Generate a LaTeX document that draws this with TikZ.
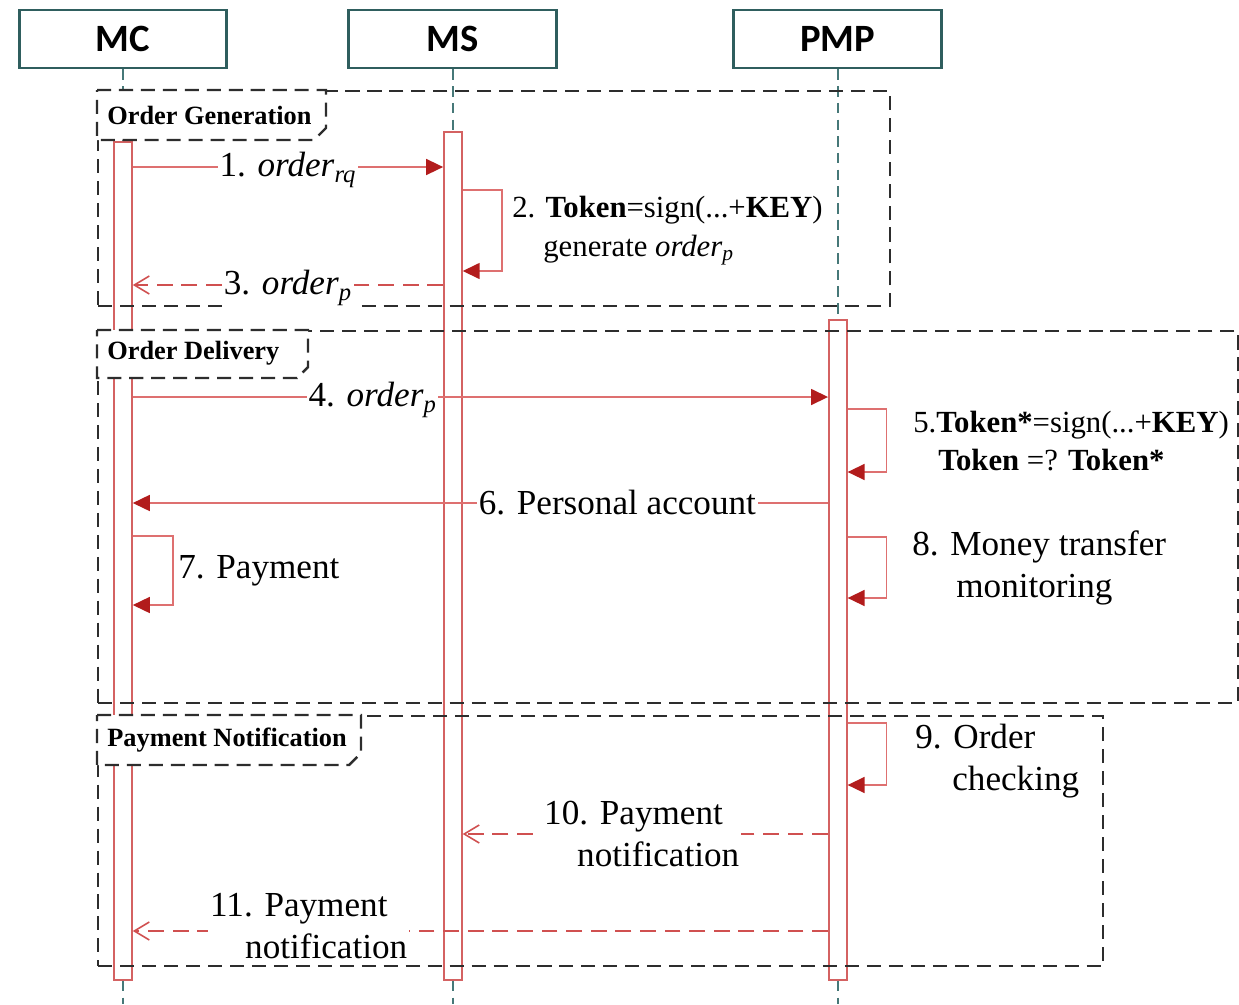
\documentclass[tikz,border=0pt]{standalone}
\usepackage{fontspec}
\setmainfont{Liberation Serif}
\newfontfamily\headfont{Carlito}
\usepackage{tikz}
\usetikzlibrary{positioning,arrows.meta}
\usepackage{xcolor}
\definecolor{tealline}{RGB}{47,94,94}
\definecolor{lifeteal}{RGB}{70,120,120}
\definecolor{barred}{RGB}{212,98,98}
\definecolor{msgred}{RGB}{222,112,112}
\definecolor{replyred}{RGB}{208,80,80}
\definecolor{tipred}{RGB}{178,28,28}
\definecolor{framegray}{RGB}{45,45,45}

\begin{document}
\begin{tikzpicture}[x=0.02cm, y=-0.02cm,
    actor/.style={rectangle, draw=tealline, line width=1.7pt, fill=white,
                  minimum width=4.16cm, minimum height=1.16cm,
                  font=\headfont\fontsize{22}{24}\selectfont\bfseries},
    lifeline/.style={draw=lifeteal, line width=1.1pt, dash pattern=on 6pt off 3.5pt},
    actbar/.style={rectangle, draw=barred, line width=0.9pt, fill=white,
                   minimum width=0.36cm, inner sep=0pt},
    fragment/.style={rectangle, draw=framegray, line width=1.4pt,
                     dash pattern=on 8pt off 4.5pt, anchor=north west},
    tabtext/.style={anchor=west, inner sep=0pt, font=\fontsize{15}{17}\selectfont\bfseries},
    msg/.style={draw=msgred, line width=0.9pt, -{Triangle[length=3.4mm, width=3.2mm, color=tipred]}},
    reply/.style={draw=replyred, line width=0.9pt, dash pattern=on 9pt off 5pt,
                  -{Straight Barb[length=3mm, width=3.6mm, color=replyred]}},
    onlabel/.style={fill=white, inner sep=1pt, align=left, font=\fontsize{20}{23.5}\selectfont},
    sidelabel/.style={anchor=west, align=left, inner sep=0pt, font=\fontsize{20}{23.5}\selectfont},
    smalllabel/.style={anchor=west, align=left, inner sep=0pt, font=\fontsize{17.5}{22}\selectfont}
]
    \useasboundingbox (0,0) rectangle (1239,1004);

    \node[actor] (mc) at (123,39) {MC};
    \node[actor, right=2.38cm of mc] (ms) {MS};
    \node[actor, right=3.48cm of ms] (pmp) {PMP};

    \node[actbar, minimum height=16.76cm, below=1.44cm of mc] (mcbar) {};
    \node[actbar, minimum height=16.96cm, below=1.24cm of ms] (msbar) {};
    \node[actbar, minimum height=13.2cm, below=5cm of pmp] (pmpbar) {};

    \coordinate (bottom) at (0,1004);
    \draw[lifeline] (mc) -- (mcbar);
    \draw[lifeline] (ms) -- (msbar);
    \draw[lifeline] (pmp) -- (pmpbar);
    \draw[lifeline] (mcbar.south) -- (mcbar.south |- bottom);
    \draw[lifeline] (msbar.south) -- (msbar.south |- bottom);
    \draw[lifeline] (pmpbar.south) -- (pmpbar.south |- bottom);

    \node[fragment, minimum width=15.84cm, minimum height=4.3cm] (gen) at (97,90) {};
    \node[fragment, minimum width=22.8cm, minimum height=7.44cm] (del) at (97,330) {};
    \node[fragment, minimum width=20.1cm, minimum height=5cm] (pay) at (97,715) {};
    \draw[fragment, fill=white] (gen.north west) -- ++(229,0) -- ++(0,38) -- ++(-12,12) -- ++(-217,0) -- cycle;
    \draw[fragment, fill=white] (del.north west) -- ++(211,0) -- ++(0,37) -- ++(-11,11) -- ++(-200,0) -- cycle;
    \draw[fragment, fill=white] (pay.north west) -- ++(264,0) -- ++(0,38) -- ++(-12,12) -- ++(-252,0) -- cycle;
    \node[tabtext] (gentxt) at ([xshift=0.2cm, yshift=-0.5cm] gen.north west) {Order Generation};
    \node[tabtext] (deltxt) at ([xshift=0.2cm, yshift=-0.46cm] del.north west) {Order Delivery};
    \node[tabtext] (paytxt) at ([xshift=0.2cm, yshift=-0.5cm] pay.north west) {Payment Notification};

    \coordinate (m1) at (0,167);
    \coordinate (m2a) at (0,190);
    \coordinate (m2b) at (0,271);
    \coordinate (m3) at (0,285);
    \coordinate (m4) at (0,397);
    \coordinate (m5a) at (0,409);
    \coordinate (m5b) at (0,472);
    \coordinate (m6) at (0,503);
    \coordinate (m7a) at (0,536);
    \coordinate (m7b) at (0,605);
    \coordinate (m8a) at (0,537);
    \coordinate (m8b) at (0,598);
    \coordinate (m9a) at (0,723);
    \coordinate (m9b) at (0,785);
    \coordinate (m10) at (0,834);
    \coordinate (m11) at (0,931);

    \draw[msg] (mcbar.east |- m1) -- node[onlabel, yshift=-0.06cm] {1. \textit{order}\textsubscript{\textit{rq}}} (msbar.west |- m1);
    \draw[msg] (msbar.east |- m2a) -- ++(39,0) |- (msbar.east |- m2b);
    \node[smalllabel] (lab2) at (512,231) {2. \textbf{Token}=sign(...+\textbf{KEY})\\
        \hspace*{0.62cm}generate \textit{order}\textsubscript{\textit{p}}};
    \draw[reply] (msbar.west |- m3) -- node[onlabel, yshift=-0.06cm] {3. \textit{order}\textsubscript{\textit{p}}} (mcbar.east |- m3);

    \draw[msg] (mcbar.east |- m4) -- node[onlabel, pos=0.345, yshift=-0.06cm] {4. \textit{order}\textsubscript{\textit{p}}} (pmpbar.west |- m4);
    \draw[msg] (pmpbar.east |- m5a) -- ++(39,0) |- (pmpbar.east |- m5b);
    \node[smalllabel] (lab5) at (913,441) {5.\textbf{Token*}=sign(...+\textbf{KEY})\\
        \hspace*{0.5cm}\textbf{Token} =? \textbf{Token*}};
    \draw[msg] (pmpbar.west |- m6) -- node[onlabel, pos=0.303] {6. Personal account} (mcbar.east |- m6);
    \draw[msg] (mcbar.east |- m7a) -- ++(40,0) |- (mcbar.east |- m7b);
    \node[sidelabel] (lab7) at (178,571) {7. Payment};
    \draw[msg] (pmpbar.east |- m8a) -- ++(39,0) |- (pmpbar.east |- m8b);
    \node[sidelabel] (lab8) at (912,568) {8. Money transfer\\ \hspace*{0.88cm}monitoring};

    \draw[msg] (pmpbar.east |- m9a) -- ++(39,0) |- (pmpbar.east |- m9b);
    \node[sidelabel] (lab9) at (915,761) {9. Order\\ \hspace*{0.74cm}checking};
    \draw[reply] (pmpbar.west |- m10) -- node[onlabel, pos=0.51] {10. Payment\\ \hspace*{0.66cm}notification} (msbar.east |- m10);
    \draw[reply] (pmpbar.west |- m11) -- node[onlabel, pos=0.747, yshift=0.1cm] {11. Payment\\ \hspace*{0.7cm}notification} (mcbar.east |- m11);
\end{tikzpicture}
\end{document}
